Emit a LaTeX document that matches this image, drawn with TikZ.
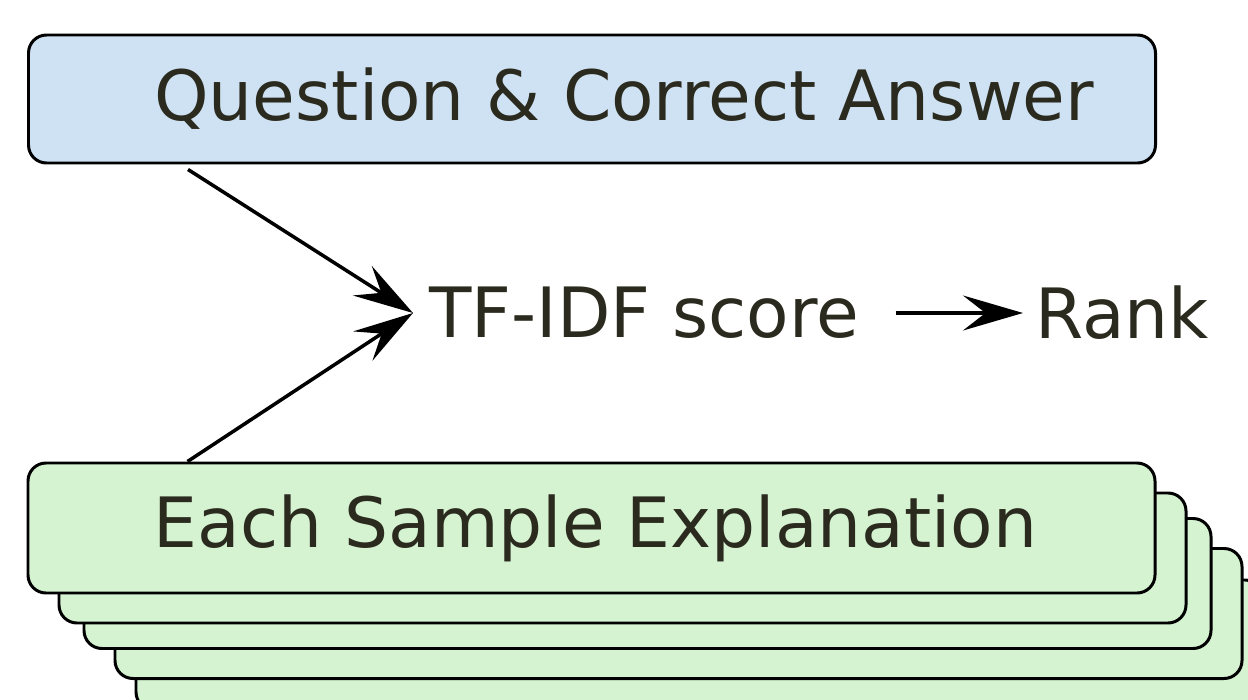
\documentclass[tikz,border=0pt]{standalone}
\usepackage{fontspec}
\setmainfont{DejaVu Sans}
\usepackage{tikz}
\usetikzlibrary{positioning, arrows.meta}

\definecolor{qfill}{HTML}{CFE2F3}
\definecolor{efill}{HTML}{D5F2D1}
\definecolor{ink}{HTML}{2B2A1E}

\begin{document}
\begin{tikzpicture}[
    card/.style={
      draw=black, line width=1.7pt, rounded corners=0.36cm,
      minimum width=22.54cm, minimum height=2.6cm, inner sep=0pt
    },
    qcard/.style={card, fill=qfill},
    ecard/.style={card, fill=efill},
    txt/.style={
      text=ink, inner sep=0pt, font=\fontsize{39.5}{47}\selectfont
    },
    arr/.style={-{Stealth[length=1.2cm, width=0.7cm, inset=0.45cm]}, line width=2pt},
  ]
    \useasboundingbox (0,0) rectangle (24.96,-14);

    % question box on top
    \node[qcard, minimum height=2.56cm] (qa) at (11.84,-1.98) {};
    \node[txt, anchor=west] (qatext) at ([xshift=2.54cm]qa.west) {Question \& Correct Answer};

    % stack of explanation cards, back to front
    \foreach \cx/\cy/\n in {13.99/-12.9/5, 13.57/-12.27/4, 12.95/-11.67/3, 12.45/-11.16/2}
      \node[ecard] (ex\n) at (\cx,\cy) {};
    \node[ecard] (ex1) at (11.83,-10.56) {};
    \node[txt, anchor=west] (extext) at ([xshift=2.54cm]ex1.west) {Each Sample Explanation};

    % score and rank
    \node[txt, anchor=west, inner xsep=0.32cm] (score) at (8.26,-6.26) {TF-IDF score};
    \node[txt, anchor=west, inner xsep=0.24cm] (rank) at (20.46,-6.26) {Rank};

    \draw[arr] ([xshift=3.22cm, yshift=-0.1cm]qa.south west) -- (score.west);
    \draw[arr] ([xshift=3.22cm]ex1.north west) -- (score.west);
    \draw[arr] ([xshift=0.4cm]score.east) -- (rank.west);
\end{tikzpicture}
\end{document}
